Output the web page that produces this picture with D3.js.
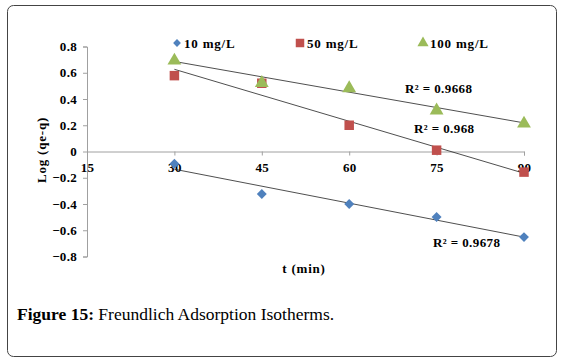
<!DOCTYPE html>
<html>
<head>
<meta charset="utf-8">
<script src="https://cdn.jsdelivr.net/npm/d3@7"></script>
<style>
  body { margin: 0; background: #fff; }
  svg { display: block; }
  text { font-family: "Liberation Serif", "Times New Roman", serif; }
</style>
</head>
<body>
<svg id="chart" width="564" height="362"></svg>
<script>
const times = [30, 45, 60, 75, 90];
const seriesNames = ["10 mg/L", "50 mg/L", "100 mg/L"];
const values10 = [-0.093, -0.324, -0.40, -0.499, -0.652];
const values50 = [0.578, 0.52, 0.20, 0.01, -0.157];
const values100 = [0.70, 0.53, 0.49, 0.32, 0.22];
const rSquared = ["R² = 0.9678", "R² = 0.968", "R² = 0.9668"];
const xTicks = [15, 30, 45, 60, 75, 90];
const yTicks = [-0.8, -0.6, -0.4, -0.2, 0, 0.2, 0.4, 0.6, 0.8];

const colors = ["#4F81BD", "#C0504D", "#9BBB59"];
const allValues = [values10, values50, values100];

const svg = d3.select("#chart");

// outer frame
svg.append("rect")
  .attr("x", 7.5).attr("y", 5.5)
  .attr("width", 549).attr("height", 351)
  .attr("rx", 6)
  .attr("fill", "none")
  .attr("stroke", "#444")
  .attr("stroke-width", 1);

const x = d3.scaleLinear().domain([15, 90]).range([87, 524]);
const y = d3.scaleLinear().domain([-0.8, 0.8]).range([256.5, 46.5]);

// diamond = rotated square
function marker(sel, k, s) {
  if (k === 2) sel.attr("d", d3.symbol(d3.symbolTriangle, s * s * 0.75));
  else sel.attr("d", d3.symbol(d3.symbolSquare, s * s));
}

// y axis
const yAxis = svg.append("g")
  .attr("transform", `translate(${x(15)},0)`)
  .call(d3.axisLeft(y).tickValues(yTicks).tickSize(4).tickPadding(6)
    .tickFormat(d => d === 0 ? "0" : d3.format(".1f")(d)));
yAxis.selectAll("path, line").attr("stroke", "#a0a0a0");
yAxis.selectAll("text")
  .attr("font-size", 13).attr("font-weight", "bold").attr("fill", "#000")
  .attr("letter-spacing", 0.3);

// x axis at y = 0
const xAxis = svg.append("g")
  .attr("transform", `translate(0,${y(0)})`)
  .call(d3.axisBottom(x).tickValues(xTicks).tickSize(4).tickPadding(7));
xAxis.selectAll("path, line").attr("stroke", "#a0a0a0");
xAxis.selectAll("text")
  .attr("font-size", 13).attr("font-weight", "bold").attr("fill", "#000")
  .attr("letter-spacing", 0.3);

// linear trendlines
function fit(xs, ys) {
  const mx = d3.mean(xs), my = d3.mean(ys);
  const b = d3.sum(xs, (v, i) => (v - mx) * (ys[i] - my)) / d3.sum(xs, v => (v - mx) ** 2);
  return { b, a: my - b * mx };
}

allValues.forEach((vals, k) => {
  const f = fit(times, vals);
  svg.append("line")
    .attr("x1", x(30)).attr("y1", y(f.a + f.b * 30))
    .attr("x2", x(90)).attr("y2", y(f.a + f.b * 90))
    .attr("stroke", "#222")
    .attr("stroke-width", 0.8);
});

allValues.forEach((vals, k) => {
  const s = k === 0 ? 7 : k === 1 ? 9.5 : 10.5;
  svg.append("g")
    .selectAll("path")
    .data(vals)
    .join("path")
    .call(sel => marker(sel, k, s))
    .attr("transform", (d, i) =>
      `translate(${x(times[i])},${y(d) + (k === 2 ? 1 : 0)})` + (k === 0 ? " rotate(45)" : ""))
    .attr("fill", colors[k]);
});

// R² labels
const rPos = [[433, 247], [414, 133], [405, 93]];
rSquared.forEach((t, k) => {
  svg.append("text")
    .attr("x", rPos[k][0]).attr("y", rPos[k][1])
    .attr("font-size", 13).attr("font-weight", "bold")
    .attr("letter-spacing", 0.4)
    .text(t);
});

// legend
const legendX = [177, 300, 423];
seriesNames.forEach((name, k) => {
  const g = svg.append("g").attr("transform", `translate(${legendX[k]},43)`);
  g.append("path")
    .call(sel => marker(sel, k, k === 0 ? 5.5 : 8.5))
    .attr("transform", k === 0 ? "rotate(45)" : null)
    .attr("fill", colors[k]);
  g.append("text")
    .attr("x", 7).attr("y", 4.5)
    .attr("font-size", 13).attr("font-weight", "bold")
    .attr("letter-spacing", 0.8)
    .text(name);
});

// axis titles
svg.append("text")
  .attr("x", 304).attr("y", 273)
  .attr("text-anchor", "middle")
  .attr("font-size", 13).attr("font-weight", "bold")
  .attr("letter-spacing", 0.8)
  .text("t (min)");

svg.append("text")
  .attr("transform", "translate(46,150) rotate(-90)")
  .attr("text-anchor", "middle")
  .attr("font-size", 13).attr("font-weight", "bold")
  .attr("letter-spacing", 0.8)
  .text("Log (qe-q)");

// caption
const cap = svg.append("text")
  .attr("x", 17).attr("y", 320)
  .attr("font-size", 17.5);
cap.append("tspan").attr("font-weight", "bold").text("Figure 15:");
cap.append("tspan").text(" Freundlich Adsorption Isotherms.");
</script>
</body>
</html>
